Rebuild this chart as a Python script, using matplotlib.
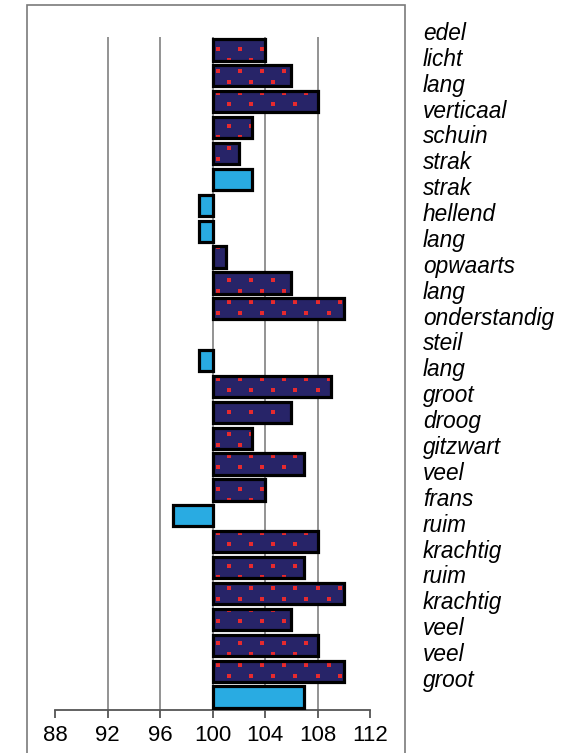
import matplotlib
matplotlib.use("Agg")
import matplotlib.pyplot as plt
import numpy as np
from matplotlib.patches import Rectangle
from matplotlib.transforms import blended_transform_factory

labels = [
	"edel", "licht", "lang", "verticaal", "schuin", "strak", "strak",
	"hellend", "lang", "opwaarts", "lang", "onderstandig", "steil", "lang",
	"groot", "droog", "gitzwart", "veel", "frans", "ruim", "krachtig",
	"ruim", "krachtig", "veel", "veel", "groot",
]

values = [
	104, 106, 108, 103, 102, 103, 99, 99, 101, 106, 110, 100, 99,
	109, 106, 103, 107, 104, 97, 108, 107, 110, 106, 108, 110, 107,
]

# 1 = light blue bar, 0 = dotted navy bar
light = [0, 0, 0, 0, 0, 1, 1, 1, 0, 0, 0, 0, 1, 0, 0, 0, 0, 0, 1, 0, 0, 0, 0, 0, 0, 1]

x_ticks = [88, 92, 96, 100, 104, 108, 112]
base = 100

NAVY = "#272468"
LIGHT = "#29ABE2"
RED = "#E62A2E"
GRID = "#8a8a8a"

plt.rcParams["font.family"] = ["Liberation Sans", "DejaVu Sans"]

fig = plt.figure(figsize=(5.76, 7.53), dpi=100)
ax = fig.add_axes([55 / 576, 1 - 710 / 753, 315 / 576, 673 / 753])

n = len(values)
y = np.arange(n)
vals = np.array(values, dtype=float)
is_light = np.array(light, dtype=bool)
bar_h = 0.82

ax.set_xlim(x_ticks[0], x_ticks[-1])
ax.set_ylim(n - 0.5, -0.5)

# Vertical grid lines (not at the outer ticks).
ax.vlines(x_ticks[1:-1], -0.5, n - 0.5, colors=GRID, linewidth=1.3, zorder=1)

draw = vals != base

for flag, color in [(False, NAVY), (True, LIGHT)]:
	mask = draw & (is_light == flag)
	ax.barh(
		y[mask], vals[mask] - base, left=base, height=bar_h,
		color=color, edgecolor="none", zorder=2,
	)

# Red dot texture on the navy bars.
dot_dx = 1.68
dot_dy = 0.425
x0 = 100.44
y0 = -0.03
dot_x = []
dot_y = []
for i in np.where(draw & ~is_light)[0]:
	top = i - bar_h / 2
	bottom = i + bar_h / 2
	j_start = int(np.floor((top - y0) / dot_dy))
	j_end = int(np.ceil((bottom - y0) / dot_dy))
	for j in range(j_start, j_end + 1):
		yy = y0 + j * dot_dy
		if yy < top or yy > bottom:
			continue
		shift = (j % 2) * dot_dx / 2
		xx = x0 + shift + dot_dx * np.arange(0, 12)
		xx = xx[(xx > base) & (xx < vals[i])]
		dot_x.extend(xx)
		dot_y.extend([yy] * len(xx))

ax.scatter(dot_x, dot_y, s=6, marker="s", color=RED, linewidths=0, zorder=3)

# Black borders on top.
ax.barh(
	y[draw], vals[draw] - base, left=base, height=bar_h,
	color="none", edgecolor="black", linewidth=2.3, zorder=4,
)

for side in ["left", "top", "right"]:
	ax.spines[side].set_visible(False)
ax.spines["bottom"].set_color("#555555")
ax.spines["bottom"].set_linewidth(1.3)

ax.set_xticks(x_ticks)
ax.set_xticklabels([str(t) for t in x_ticks], fontsize=16)
ax.tick_params(axis="x", direction="out", length=6, width=1.3, color="#555555", pad=5)
ax.set_yticks([])

# Word labels to the right of the plot.
trans = blended_transform_factory(fig.transFigure, ax.transData)
for i, text in enumerate(labels):
	ax.text(
		423 / 576, i - 0.39, text, transform=trans, fontsize=16.3,
		fontstyle="italic", va="baseline", ha="left", clip_on=False,
	)

# Outer chart frame.
fig.add_artist(
	Rectangle(
		(27 / 576, -0.02), (405 - 27) / 576, 1.02 - 5 / 753,
		transform=fig.transFigure, fill=False, edgecolor="#7a7a7a", linewidth=1.2,
	)
)

# plt.show()
fig.savefig("out.png", dpi=100)
